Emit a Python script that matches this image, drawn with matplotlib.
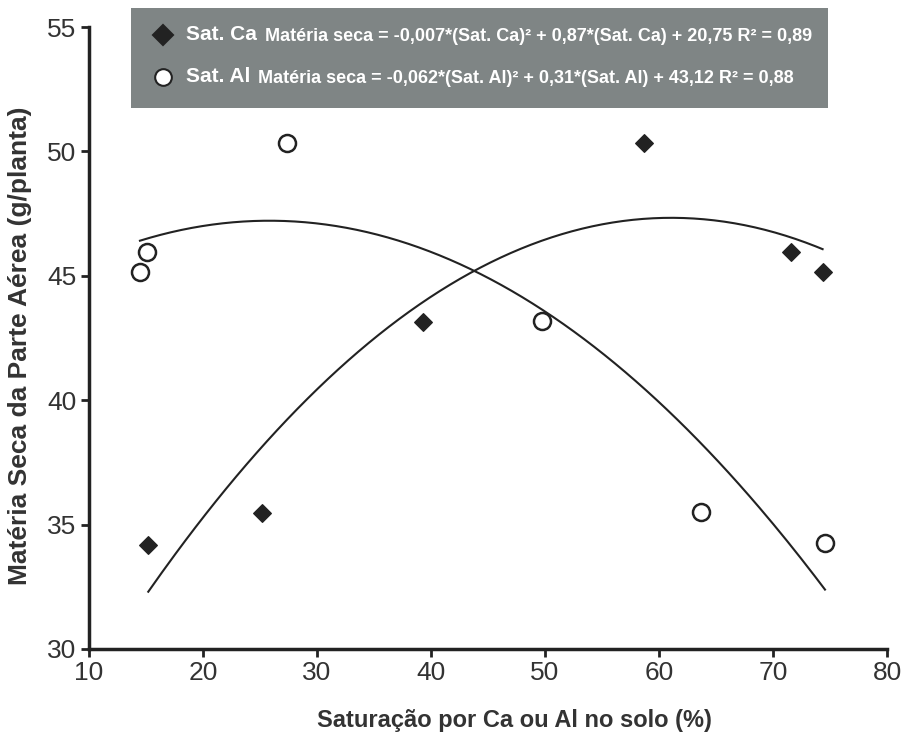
import numpy as np
import matplotlib
matplotlib.use("Agg")
import matplotlib.pyplot as plt
from matplotlib.patches import Rectangle
from matplotlib.lines import Line2D

# === Datos ===
sat_ca = [15.2, 25.15, 39.3, 58.7, 71.55, 74.35]
ms_ca = [34.2, 35.48, 43.13, 50.33, 45.97, 45.16]

sat_al = [14.47, 15.06, 27.34, 49.71, 63.68, 74.56]
ms_al = [45.16, 45.97, 50.33, 43.18, 35.52, 34.25]

eq_ca = "Matéria seca = -0,007*(Sat. Ca)² + 0,87*(Sat. Ca) + 20,75 R² = 0,89"
eq_al = "Matéria seca = -0,062*(Sat. Al)² + 0,31*(Sat. Al) + 43,12 R² = 0,88"

plt.rcParams['font.family'] = ['Liberation Sans', 'DejaVu Sans']
ink = "#222222"

fig = plt.figure(figsize=(9.1, 7.33), dpi=100)
ax = fig.add_axes([89/910, 1 - 649/733, (887-89)/910, (649-27)/733])

# puntos
ax.scatter(sat_ca, ms_ca, marker="D", s=80, color=ink, zorder=3)
ax.scatter(sat_al, ms_al, marker="o", s=150, facecolor="white",
           edgecolor=ink, linewidth=1.8, zorder=3)

# curvas de ajuste (polinomio de grado 2 sobre los puntos)
for xs, ys in [(sat_ca, ms_ca), (sat_al, ms_al)]:
    c = np.polyfit(xs, ys, 2)
    xx = np.linspace(min(xs), max(xs), 200)
    ax.plot(xx, np.polyval(c, xx), color=ink, lw=1.5, zorder=2)

ax.set_xlim(10, 80)
ax.set_ylim(30, 55)
ax.set_xticks(range(10, 81, 10))
ax.set_yticks(range(30, 56, 5))
for s in ["top", "right"]:
    ax.spines[s].set_visible(False)
for s in ["left", "bottom"]:
    ax.spines[s].set_linewidth(2.5)
    ax.spines[s].set_color(ink)
ax.tick_params(direction="out", length=6, width=2, color=ink,
               labelsize=19, labelcolor="#333333", pad=3)

ax.set_xlabel("Saturação por Ca ou Al no solo (%)", fontsize=17,
              fontweight="bold", color="#333333")
ax.xaxis.set_label_coords((514-89)/798, -(720-649)/622)
ax.set_ylabel("Matéria Seca da Parte Aérea (g/planta)", fontsize=19,
              fontweight="bold", color="#333333")
ax.yaxis.set_label_coords((20-89)/798, (649-346)/622)
ax.xaxis.label.set_va("center")
ax.yaxis.label.set_va("center")

# === Leyenda (caja gris) ===
fig.patches.append(Rectangle((131/910, 1 - 108/733), (828-131)/910, 100/733,
                             transform=fig.transFigure, facecolor="#7f8585",
                             edgecolor="none", zorder=5))
narrow = ['Liberation Sans Narrow', 'Liberation Sans']
rows = [(35, "D", ink, "Sat. Ca", eq_ca, 265/910),
        (77, "o", "white", "Sat. Al", eq_al, 258/910)]
for py, mk, fc, nombre, eq, xeq in rows:
    yf = 1 - py/733
    fig.add_artist(Line2D([163/910], [yf], marker=mk, markersize=10 if mk == "D" else 12,
                          markerfacecolor=fc, markeredgecolor=ink, markeredgewidth=1.5,
                          linestyle="none", transform=fig.transFigure, zorder=6))
    fig.text(186/910, yf, nombre, color="white", fontsize=15, fontweight="bold",
             family=narrow, va="center", ha="left", zorder=6)
    fig.text(xeq, yf - 0.002, eq, color="white", fontsize=13, fontweight="bold",
             family=narrow, va="center", ha="left", zorder=6)

fig.savefig("out.png", dpi=100)
